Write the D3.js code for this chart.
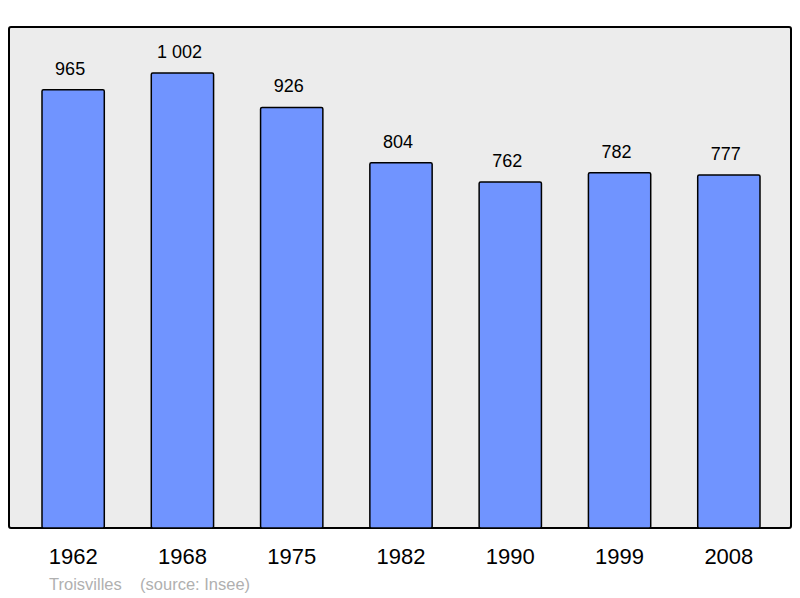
<!DOCTYPE html>
<html><head><meta charset="utf-8">
<script src="https://cdn.jsdelivr.net/npm/d3@7"></script>
<style>body{margin:0;background:#fff}</style></head>
<body><svg id="c" width="800" height="598"></svg>
<script>
const years = ["1962","1968","1975","1982","1990","1999","2008"];
const population = [965,1002,926,804,762,782,777];
const valueLabels = ["965","1 002","926","804","762","782","777"];

const svg = d3.select("#c");
const font = "Liberation Sans, Arial, sans-serif";
svg.append("rect").attr("x",9).attr("y",27).attr("width",782).attr("height",501)
  .attr("fill","#ececec").attr("stroke","#000").attr("stroke-width",2).attr("rx",2);
const x = d3.scaleBand().domain(years).range([18.5,783.5]).paddingInner(0.43).paddingOuter(0.215);
const y = d3.scaleLinear().domain([0,1103]).range([528,27]);
svg.selectAll("rect.bar").data(population).enter().append("rect").attr("class","bar")
  .attr("x",(d,i)=>x(years[i])).attr("y",d=>y(d))
  .attr("width",x.bandwidth()).attr("height",d=>528-y(d))
  .attr("fill","#7094ff").attr("stroke","#000").attr("stroke-width",1.5).attr("rx",1.5);
svg.selectAll("text.v").data(population).enter().append("text")
  .attr("x",(d,i)=>x(years[i])+x.bandwidth()/2-3).attr("y",d=>y(d)-15)
  .attr("text-anchor","middle").attr("font-family",font).attr("font-size",18)
  .text((d,i)=>valueLabels[i]);
const ax = svg.append("g").attr("transform","translate(0,528)").call(d3.axisBottom(x).tickSize(0).tickPadding(20));
ax.select(".domain").remove();
ax.selectAll("text").attr("font-family",font).attr("font-size",22).attr("fill","#000");
svg.append("text").attr("x",49).attr("y",590).attr("font-family",font).attr("font-size",16.5)
  .attr("fill","#b0b0b0").attr("xml:space","preserve").style("white-space","pre")
  .text("Troisvilles    (source: Insee)");
</script></body></html>
